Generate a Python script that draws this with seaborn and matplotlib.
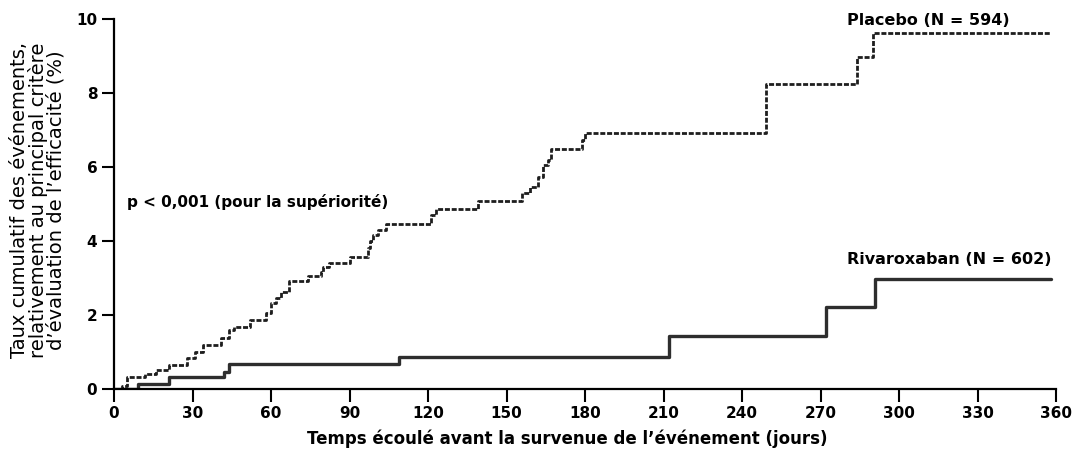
import matplotlib
matplotlib.use("Agg")
import matplotlib.pyplot as plt
import seaborn as sns
import pandas as pd

# ─────────────────────────────────────────────
# Data (days, cumulative %)
# ─────────────────────────────────────────────
placebo_days = [0, 3, 5, 12, 16, 21, 28, 31, 34, 41, 44, 46, 52, 58, 60, 62, 64, 67,
                74, 79, 80, 82, 90, 97, 98, 99, 101, 104, 121, 123, 139, 156, 159,
                162, 164, 166, 167, 179, 180, 249, 284, 290, 358]
placebo_rate = [0, 0.08, 0.33, 0.40, 0.51, 0.65, 0.85, 1.00, 1.19, 1.38, 1.60, 1.68,
                1.86, 2.05, 2.32, 2.46, 2.63, 2.93, 3.05, 3.17, 3.30, 3.41, 3.58, 3.80,
                4.00, 4.16, 4.30, 4.46, 4.70, 4.86, 5.07, 5.29, 5.45, 5.74, 6.05, 6.19,
                6.48, 6.73, 6.92, 8.24, 8.98, 9.63, 9.63]

riva_days = [0, 9, 21, 42, 44, 109, 212, 272, 291, 358]
riva_rate = [0, 0.14, 0.33, 0.47, 0.68, 0.87, 1.43, 2.22, 2.97, 2.97]

x_ticks = [0, 30, 60, 90, 120, 150, 180, 210, 240, 270, 300, 330, 360]
y_ticks = [0, 2, 4, 6, 8, 10]

placebo = pd.DataFrame({"jours": placebo_days, "taux": placebo_rate})
riva = pd.DataFrame({"jours": riva_days, "taux": riva_rate})

sns.set_theme(style="white")
plt.rcParams["font.family"] = ["DejaVu Sans"]

fig = plt.figure(figsize=(10.76, 4.66), dpi=100)
ax = fig.add_axes([114 / 1076, 77 / 466, 942 / 1076, 370 / 466])

sns.lineplot(data=placebo, x="jours", y="taux", ax=ax, color="#1e1e1e",
             linewidth=2.0, drawstyle="steps-post", linestyle=(0, (1.8, 0.65)),
             errorbar=None)
sns.lineplot(data=riva, x="jours", y="taux", ax=ax, color="#2e2e2e",
             linewidth=2.4, drawstyle="steps-post", errorbar=None)

ax.set_xlim(0, 360)
ax.set_ylim(0, 10)
ax.set_xticks(x_ticks)
ax.set_yticks(y_ticks)
ax.tick_params(axis="both", direction="out", length=9, width=1.5, colors="black",
               labelsize=11, pad=3, bottom=True, left=True)
for lab in ax.get_xticklabels() + ax.get_yticklabels():
    lab.set_fontweight("bold")
sns.despine(ax=ax)
for side in ["left", "bottom"]:
    ax.spines[side].set_linewidth(1.6)
    ax.spines[side].set_color("black")

ax.set_xlabel("Temps écoulé avant la survenue de l’événement (jours)",
              fontsize=12, fontweight="bold", color="black")
ax.xaxis.set_label_coords(0.481, -0.11)
ax.set_ylabel("Taux cumulatif des événements,\nrelativement au principal critère\n"
              "d’évaluation de l’efficacité (%)",
              fontsize=14, linespacing=0.9, color="black", va="center")
ax.yaxis.set_label_coords(-0.081, 0.51)

ax.text(280, 9.97, "Placebo (N = 594)", fontsize=11.5, fontweight="bold",
        ha="left", va="center", color="black")
ax.text(280, 3.49, "Rivaroxaban (N = 602)", fontsize=11.5, fontweight="bold",
        ha="left", va="center", color="black")
ax.text(5, 5.06, "p < 0,001 (pour la supériorité)", fontsize=11,
        fontweight="bold", ha="left", va="center", color="black")

plt.savefig("out.png", dpi=100)
plt.close()
